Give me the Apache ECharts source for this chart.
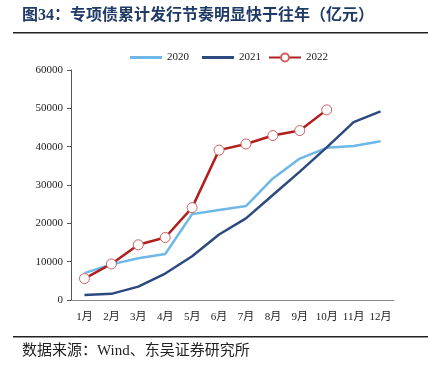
<!DOCTYPE html>
<html>
<head>
<meta charset="utf-8">
<script src="https://cdn.jsdelivr.net/npm/echarts@6/dist/echarts.min.js"></script>
<style>html,body{margin:0;padding:0;background:#fff;}#c{width:430px;height:371px;}</style>
</head>
<body>
<div id="c"></div>
<script>
var categories = ['1月','2月','3月','4月','5月','6月','7月','8月','9月','10月','11月','12月'];
var s2020 = [7000, 9300, 10900, 12000, 22400, 23500, 24500, 31700, 36900, 39700, 40200, 41400];
var s2021 = [1300, 1600, 3500, 6900, 11400, 17100, 21300, 27400, 33500, 39800, 46400, 49200];
var s2022 = [5600, 9400, 14400, 16300, 24100, 39100, 40700, 42900, 44200, 49600];
var yTicks = [0, 10000, 20000, 30000, 40000, 50000, 60000];

var serif = '"Liberation Serif","Times New Roman","Noto Sans CJK SC",serif';
var chart = echarts.init(document.getElementById('c'));
chart.setOption({
  backgroundColor: '#fff',
  animation: false,
  graphic: [
    {type:'text', left: 22, top: 8, style:{text:'图34：专项债累计发行节奏明显快于往年（亿元）', font:'bold 16px ' + serif, fill:'#1F3A66'}},
    {type:'rect', shape:{x:13, y:32, width:415, height:1.5}, style:{fill:'#222'}},
    {type:'rect', shape:{x:13, y:336, width:415, height:1.5}, style:{fill:'#222'}},
    {type:'text', left: 22, top: 344, style:{text:'数据来源：Wind、东吴证券研究所', font:'15px ' + serif, fill:'#222'}}
  ],
  legend: [
    {
      top: 47, left: 125,
      icon: 'rect',
      itemWidth: 32, itemHeight: 3, itemGap: 13,
      textStyle: {fontFamily: serif, fontSize: 11, color: '#222'},
      data: ['2020','2021']
    },
    {
      top: 47, left: 263,
      itemWidth: 32, itemHeight: 10, itemGap: 13,
      textStyle: {fontFamily: serif, fontSize: 11, color: '#222'},
      data: ['2022']
    }
  ],
  grid: {left: 71, right: 36, top: 70, bottom: 71},
  xAxis: {
    type: 'category', data: categories, boundaryGap: true,
    axisLine: {lineStyle: {color: '#888', width: 1}},
    axisTick: {show: false},
    axisLabel: {fontFamily: serif, fontSize: 11, color: '#222', margin: 12, interval: 0}
  },
  yAxis: {
    type: 'value', min: yTicks[0], max: yTicks[yTicks.length-1], interval: 10000,
    axisLine: {show: true, lineStyle: {color: '#555', width: 1}},
    axisTick: {show: true, inside: false, length: 4, lineStyle: {color: '#555'}},
    splitLine: {show: false},
    axisLabel: {fontFamily: serif, fontSize: 11, color: '#222', margin: 8, formatter: function(v){return String(v);}}
  },
  series: [
    {name:'2020', type:'line', data:s2020, symbol:'none', lineStyle:{color:'#6DB8E6', width:2.5}, itemStyle:{color:'#6DB8E6'}},
    {name:'2021', type:'line', data:s2021, symbol:'none', lineStyle:{color:'#2C4A80', width:2.5}, itemStyle:{color:'#2C4A80'}},
    {name:'2022', type:'line', data:s2022, symbol:'circle', symbolSize:10, showAllSymbol:true,
     lineStyle:{color:'#B01E1E', width:2.5},
     itemStyle:{color:'#fff', borderColor:'#D0605E', borderWidth:1}}
  ]
});
</script>
</body>
</html>
